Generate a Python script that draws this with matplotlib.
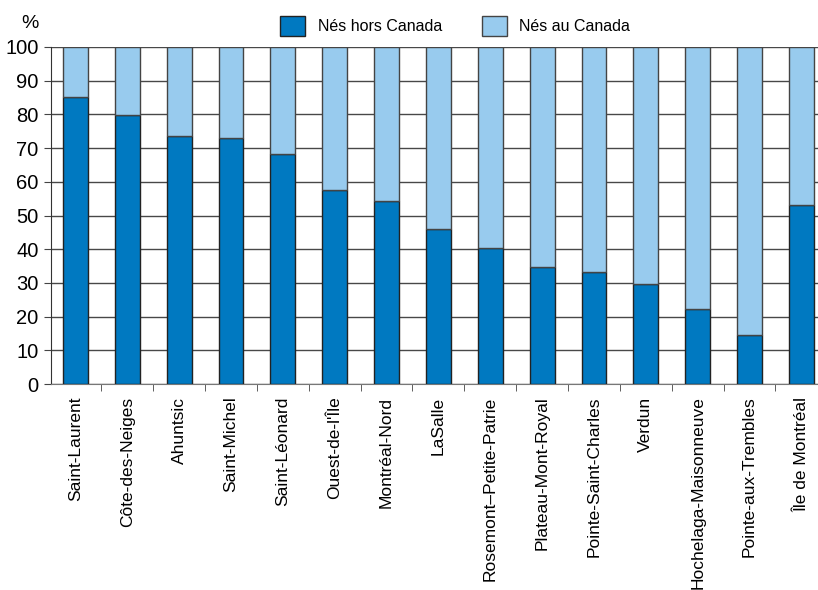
import matplotlib.pyplot as plt
import numpy as np

# Données
quartiers = ['Saint-Laurent', 'Côte-des-Neiges', 'Ahuntsic', 'Saint-Michel',
             'Saint-Léonard', "Ouest-de-l'Île", 'Montréal-Nord', 'LaSalle',
             'Rosemont–Petite-Patrie', 'Plateau-Mont-Royal',
             'Pointe-Saint-Charles', 'Verdun', 'Hochelaga-Maisonneuve',
             'Pointe-aux-Trembles', 'Île de Montréal']
nes_hors = [85.2, 79.8, 73.6, 73.0, 68.2, 57.6, 54.3, 45.9, 40.3, 34.7,
            33.1, 29.8, 22.3, 14.5, 53.1]
nes_au = [100 - v for v in nes_hors]

bleu_fonce = '#0079c1'
bleu_clair = '#98cbee'

plt.rcParams['font.family'] = ['Liberation Sans', 'DejaVu Sans']

fig = plt.figure(figsize=(8.18, 5.90), dpi=100)
ax = fig.add_axes([51/818, 1 - 384/590, 1 - 51/818, (384 - 47)/590])

x = np.arange(len(quartiers))
b1 = ax.bar(x, nes_hors, width=0.48, color=bleu_fonce, edgecolor='#222222',
            linewidth=1.0, zorder=3, label='Nés hors Canada')
b2 = ax.bar(x, nes_au, width=0.48, bottom=nes_hors, color=bleu_clair,
            edgecolor='#444444', linewidth=1.0, zorder=3, label='Nés au Canada')

ax.set_ylim(0, 100)
ax.set_xlim(-0.47, 14.32)
ax.set_yticks(range(0, 101, 10))
ax.yaxis.grid(True, color='#484848', linewidth=1.0, zorder=0)
ax.tick_params(axis='y', labelsize=14.5, length=5, color='#444444', pad=4)

ax.set_xticks(x)
ax.set_xticklabels(quartiers, rotation=90, fontsize=12.5, va='top')
ax.set_xticks(x[:-1] + 0.5, minor=True)
ax.tick_params(axis='x', which='major', length=0, pad=9)
ax.tick_params(axis='x', which='minor', length=5, color='#444444')

for s in ['top', 'right']:
    ax.spines[s].set_visible(False)
ax.spines['left'].set_color('#333333')
ax.spines['bottom'].set_color('#777777')

fig.text(30/818, 1 - 23/590, '%', fontsize=14, ha='center', va='center')

ax.legend(handles=[b1, b2], loc='lower center', bbox_to_anchor=(0.527, 1.0),
          ncol=2, frameon=False, fontsize=11.5, handlelength=1.55,
          handleheight=1.55, handletextpad=0.8, columnspacing=2.5,
          borderaxespad=0.3)

fig.savefig('out.png', dpi=100)
